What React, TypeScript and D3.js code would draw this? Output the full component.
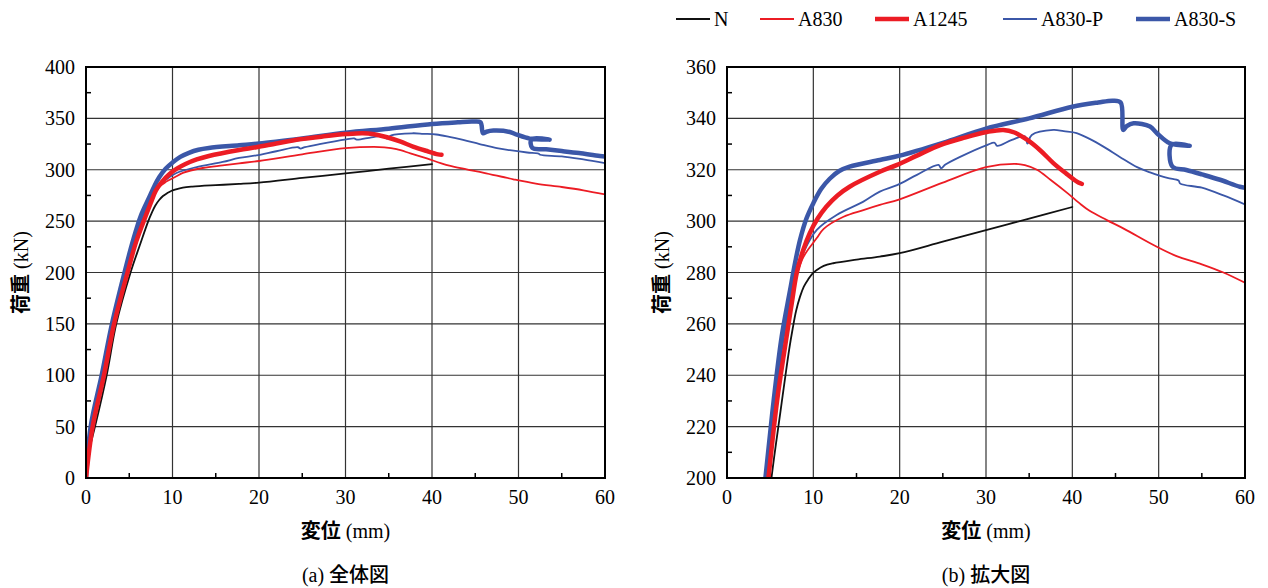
import React, { useEffect, useRef } from 'react'
import * as d3 from 'd3'

// 荷重-変位データ (mm, kN) 図から読み取り
const seriesN: [number, number][] = [
  [0, 0], [0.15, 20], [0.5, 32], [1.04, 50], [2.39, 100], [3.5, 150], [5.15, 200],
  [6.2, 226], [7.2, 250], [7.6, 258], [8.0, 265], [8.46, 270.6], [8.9, 274.5],
  [9.4, 277.3], [9.9, 279.6], [10.4, 281], [11.2, 282.6], [12.3, 283.6], [15, 285],
  [17.7, 286.2], [20, 287.5], [25, 292], [30, 296.5], [35, 301], [40, 305.5]
]

const seriesA830: [number, number][] = [
  [0, 0], [0.77, 50], [2.08, 100], [3.25, 150], [4.8, 200], [5.8, 230], [6.9, 255],
  [8.0, 278], [8.7, 285], [9.2, 288], [10.4, 293.4], [11.2, 297], [13.5, 301.7],
  [15.8, 304.3], [17.7, 306.3], [20, 308.5], [25, 315], [30, 321], [33.3, 322.3],
  [34.5, 321.8], [35.9, 320], [37.5, 316], [39.4, 311], [41, 306.5], [42, 304],
  [44, 300.4], [46, 297], [49.4, 290.7], [52, 286.5], [55, 283.2], [57.5, 280], [60, 276]
]

const seriesA1245: [number, number][] = [
  [0, 0], [0.77, 50], [2.08, 100], [3.25, 150], [4.8, 200], [5.8, 230], [6.9, 255],
  [7.5, 268], [8.07, 279.7], [8.8, 288.5], [9.6, 295.4], [10.5, 301], [11.5, 305.6],
  [12.8, 310], [14.2, 313.4], [17.7, 319.2], [19.7, 321.9], [22, 325.5], [24.7, 329.6],
  [27.5, 332.5], [30.1, 334.7], [32, 335.5], [33.3, 334.5], [34.8, 331.6],
  [36.3, 327.5], [37.8, 322.6], [39.3, 318.5], [40.7, 315], [41.1, 314.5]
]

const seriesA830P: [number, number][] = [
  [0, 0], [0.6, 50], [1.95, 100], [3.15, 150], [4.65, 200], [5.6, 230], [6.6, 255],
  [7.6, 273], [8.6, 285], [9.0, 288.8], [10.4, 296.6], [12.7, 302.4], [15.8, 307.6],
  [17.7, 311.5], [19.7, 314], [22, 318], [24.5, 321.9], [24.8, 320.6], [25.3, 322],
  [27, 325], [30.1, 329.6], [31, 330.5], [31.3, 329.3], [33, 331.6], [34.5, 333],
  [34.8, 330.2], [35.3, 333.5], [37.8, 335.5], [39, 335], [40.5, 334.3], [42, 332],
  [43.6, 329], [45.5, 325], [47.5, 321], [49, 319], [51, 316.8], [52.3, 315.8],
  [52.5, 314.6], [55, 313], [57.5, 310], [60, 306.5]
]

const seriesA830S: [number, number][] = [
  [0, 0], [0.54, 50], [1.81, 100], [3.0, 150], [4.45, 200], [5.4, 230], [6.33, 255],
  [7.3, 273], [7.9, 284], [8.46, 292.7], [9.2, 301], [10, 307], [10.9, 312.5],
  [11.9, 316.5], [13, 319.5], [14.2, 321.2], [17.7, 323.8], [20, 325.5], [25, 330.5],
  [30, 336], [35, 340], [40, 344.5], [43, 346.2], [44.7, 346.9], [45.6, 346.2],
  [45.9, 335.5], [46.3, 337], [47.1, 338.1], [49, 336.8], [49.8, 334.2], [51.3, 330.3],
  [53.6, 329.3], [51.5, 329.8], [51.6, 321.2], [53.2, 319.9], [55, 318.2], [57, 316.2],
  [59.4, 313.4], [60, 313]
]

const xTicks = [0, 10, 20, 30, 40, 50, 60]
const yTicksAll = [0, 50, 100, 150, 200, 250, 300, 350, 400]
const yTicksZoom = [200, 220, 240, 260, 280, 300, 320, 340, 360]

const BLUE = '#3b57a8'
const RED = '#ec1c24'

const series = [
  { name: 'N', data: seriesN, color: '#111', width: 1.8 },
  { name: 'A830', data: seriesA830, color: RED, width: 1.8 },
  { name: 'A1245', data: seriesA1245, color: RED, width: 4.5 },
  { name: 'A830-P', data: seriesA830P, color: BLUE, width: 1.8 },
  { name: 'A830-S', data: seriesA830S, color: BLUE, width: 4.5 }
]
// 描画順
const drawOrder = ['N', 'A830-P', 'A830-S', 'A830', 'A1245']

const panels = [
  { id: 'a', left: 86, right: 605, yTicks: yTicksAll, yMinor: 25, caption: '(a) ', captionJp: '全体図' },
  { id: 'b', left: 727, right: 1245, yTicks: yTicksZoom, yMinor: 10, caption: '(b) ', captionJp: '拡大図' }
]

const TOP = 67
const BOTTOM = 478
const SERIF = 'Liberation Serif, serif'
const CJK = 'Noto Sans CJK JP, sans-serif'

const legendPos = [676, 760, 875, 1003, 1136]

export default function App() {
  const ref = useRef<SVGSVGElement>(null)

  useEffect(() => {
    const svg = d3.select(ref.current)
    svg.selectAll('*').remove()

    panels.forEach(p => {
      const yMin = p.yTicks[0]
      const yMax = p.yTicks[p.yTicks.length - 1]
      const x = d3.scaleLinear().domain([0, 60]).range([p.left, p.right])
      const y = d3.scaleLinear().domain([yMin, yMax]).range([BOTTOM, TOP])
      const g = svg.append('g')

      g.append('clipPath').attr('id', 'clip-' + p.id)
        .append('rect')
        .attr('x', p.left).attr('y', TOP)
        .attr('width', p.right - p.left).attr('height', BOTTOM - TOP)

      // grid
      g.selectAll('.vgrid').data(xTicks.slice(1, -1)).enter()
        .append('line')
        .attr('x1', d => x(d)).attr('x2', d => x(d))
        .attr('y1', TOP).attr('y2', BOTTOM)
        .attr('stroke', '#333').attr('stroke-width', 1.2)
      g.selectAll('.hgrid').data(p.yTicks.slice(1, -1)).enter()
        .append('line')
        .attr('x1', p.left).attr('x2', p.right)
        .attr('y1', d => y(d)).attr('y2', d => y(d))
        .attr('stroke', '#333').attr('stroke-width', 1.2)

      // minor ticks (inward)
      g.selectAll('.xminor').data(d3.range(5, 60, 10)).enter()
        .append('line')
        .attr('x1', d => x(d)).attr('x2', d => x(d))
        .attr('y1', BOTTOM).attr('y2', BOTTOM - 5)
        .attr('stroke', '#000').attr('stroke-width', 1.5)
      g.selectAll('.yminor').data(d3.range(yMin + p.yMinor, yMax, p.yMinor * 2)).enter()
        .append('line')
        .attr('x1', p.left).attr('x2', p.left + 5)
        .attr('y1', d => y(d)).attr('y2', d => y(d))
        .attr('stroke', '#000').attr('stroke-width', 1.5)

      // curves
      const line = d3.line<[number, number]>()
        .x(d => x(d[0])).y(d => y(d[1]))
        .curve(d3.curveCatmullRom.alpha(0.5))
      const lines = g.append('g').attr('clip-path', `url(#clip-${p.id})`)
      drawOrder.forEach(name => {
        const s = series.find(v => v.name === name)!
        lines.append('path')
          .attr('d', line(s.data))
          .attr('fill', 'none')
          .attr('stroke', s.color)
          .attr('stroke-width', s.width)
          .attr('stroke-linejoin', 'round')
          .attr('stroke-linecap', 'round')
      })

      // frame
      g.append('rect')
        .attr('x', p.left).attr('y', TOP)
        .attr('width', p.right - p.left).attr('height', BOTTOM - TOP)
        .attr('fill', 'none').attr('stroke', '#000').attr('stroke-width', 2)

      // tick labels
      g.selectAll('.xl').data(xTicks).enter()
        .append('text')
        .attr('x', d => x(d)).attr('y', 504)
        .attr('text-anchor', 'middle')
        .attr('font-family', SERIF).attr('font-size', 20)
        .text(d => d)
      g.selectAll('.yl').data(p.yTicks).enter()
        .append('text')
        .attr('x', p.left - 11).attr('y', d => y(d)).attr('dy', '0.35em')
        .attr('text-anchor', 'end')
        .attr('font-family', SERIF).attr('font-size', 20)
        .text(d => d)

      // axis titles
      const cx = (p.left + p.right) / 2
      const xt = g.append('text')
        .attr('x', cx).attr('y', 538).attr('text-anchor', 'middle').attr('font-size', 20)
      xt.append('tspan').attr('font-family', CJK).attr('font-weight', 700).text('変位')
      xt.append('tspan').attr('font-family', SERIF).text(' (mm)')

      const yt = g.append('text')
        .attr('transform', `translate(${p.left - 58}, ${(TOP + BOTTOM) / 2}) rotate(-90)`)
        .attr('text-anchor', 'middle').attr('font-size', 20)
      yt.append('tspan').attr('font-family', CJK).attr('font-weight', 700).text('荷重')
      yt.append('tspan').attr('font-family', SERIF).text(' (kN)')

      const cap = g.append('text')
        .attr('x', cx).attr('y', 582).attr('text-anchor', 'middle').attr('font-size', 20)
      cap.append('tspan').attr('font-family', SERIF).text(p.caption)
      cap.append('tspan').attr('font-family', CJK).attr('font-weight', 500).text(p.captionJp)
    })

    // legend
    const lg = svg.append('g')
    series.forEach((s, i) => {
      const lx = legendPos[i]
      lg.append('line')
        .attr('x1', lx).attr('x2', lx + 34)
        .attr('y1', 19).attr('y2', 19)
        .attr('stroke', s.color).attr('stroke-width', s.width)
      lg.append('text')
        .attr('x', lx + 38).attr('y', 19).attr('dy', '0.35em')
        .attr('font-family', SERIF).attr('font-size', 20)
        .text(s.name)
    })
  }, [])

  return (
    <svg ref={ref} width={1268} height={588}
      style={{ position: 'absolute', left: 0, top: 0, background: '#fff' }} />
  )
}
